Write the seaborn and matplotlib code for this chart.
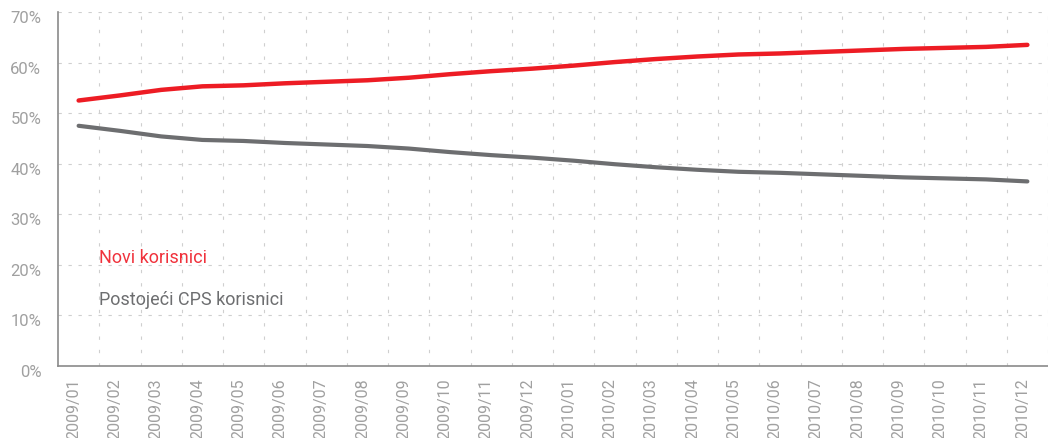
import numpy as np
import pandas as pd
import matplotlib
matplotlib.use("Agg")
import matplotlib.pyplot as plt
import matplotlib.transforms as mtransforms
import seaborn as sns

months = ["2009/01", "2009/02", "2009/03", "2009/04", "2009/05", "2009/06",
          "2009/07", "2009/08", "2009/09", "2009/10", "2009/11", "2009/12",
          "2010/01", "2010/02", "2010/03", "2010/04", "2010/05", "2010/06",
          "2010/07", "2010/08", "2010/09", "2010/10", "2010/11", "2010/12"]
novi = [52.5, 53.5, 54.6, 55.3, 55.5, 55.9, 56.2, 56.5, 57.0, 57.7, 58.3, 58.8,
        59.4, 60.1, 60.7, 61.2, 61.6, 61.8, 62.1, 62.4, 62.7, 62.9, 63.1, 63.5]
postojeci = [47.5, 46.5, 45.4, 44.7, 44.5, 44.1, 43.8, 43.5, 43.0, 42.3, 41.7, 41.2,
             40.6, 39.9, 39.3, 38.8, 38.4, 38.2, 37.9, 37.6, 37.3, 37.1, 36.9, 36.5]
yticks = [0, 10, 20, 30, 40, 50, 60, 70]
label_novi = "Novi korisnici"
label_post = "Postojeći CPS korisnici"

RED = "#ed1c24"
RED_TEXT = "#f0323c"
GRAY = "#6d6e70"
TICK = "#a0a0a0"
GRID = "#cfcfcf"

sns.set_style("white")
plt.rcParams["font.family"] = ["Roboto", "DejaVu Sans"]

fig = plt.figure(figsize=(10.48, 4.38), dpi=100)
ax = fig.add_axes([58/1048, 72/438, 990/1048, 354/438])

df = pd.DataFrame({"x": np.arange(len(months)), "novi": novi, "post": postojeci})
sns.lineplot(data=df, x="x", y="post", color=GRAY, linewidth=3.0, ax=ax,
             solid_capstyle="round")
sns.lineplot(data=df, x="x", y="novi", color=RED, linewidth=3.2, ax=ax,
             solid_capstyle="round")

ax.set_xlim(-0.5, -0.5 + 990/41.74)
ax.set_ylim(0, 70)
ax.set_xlabel("")
ax.set_ylabel("")

ax.set_yticks(yticks)
ax.set_yticklabels([f"{v}%" for v in yticks], color=TICK, fontsize=12)
ax.set_xticks(np.arange(len(months)))
ax.set_xticklabels(months, rotation=90, color=TICK, fontsize=11.5, va="top")
ax.set_xticks(np.arange(0.5, len(months)), minor=True)
ax.tick_params(axis="both", which="both", length=0)
ax.tick_params(axis="y", pad=12)
ax.tick_params(axis="x", pad=9)

dy = mtransforms.ScaledTranslation(0, -5/100, fig.dpi_scale_trans)
for lab in ax.get_yticklabels():
    lab.set_transform(lab.get_transform() + dy)
dx = mtransforms.ScaledTranslation(-5/100, 0, fig.dpi_scale_trans)
for lab in ax.get_xticklabels():
    lab.set_transform(lab.get_transform() + dx)

ax.grid(False)
ax.yaxis.grid(True, which="major", color=GRID, linestyle=(0, (3, 6)), linewidth=0.8)
ax.xaxis.grid(True, which="minor", color=GRID, linestyle=(0, (3, 9)), linewidth=0.8)
ax.set_axisbelow(True)

for s in ["top", "right"]:
    ax.spines[s].set_visible(False)
for s in ["left", "bottom"]:
    ax.spines[s].set_color("#8a8a8a")
    ax.spines[s].set_linewidth(1.2)

ax.text(0.5, 21.3, label_novi, color=RED_TEXT, fontsize=13, va="center", ha="left")
ax.text(0.5, 13.0, label_post, color=GRAY, fontsize=13, va="center", ha="left")

fig.savefig("out.png", dpi=100)
